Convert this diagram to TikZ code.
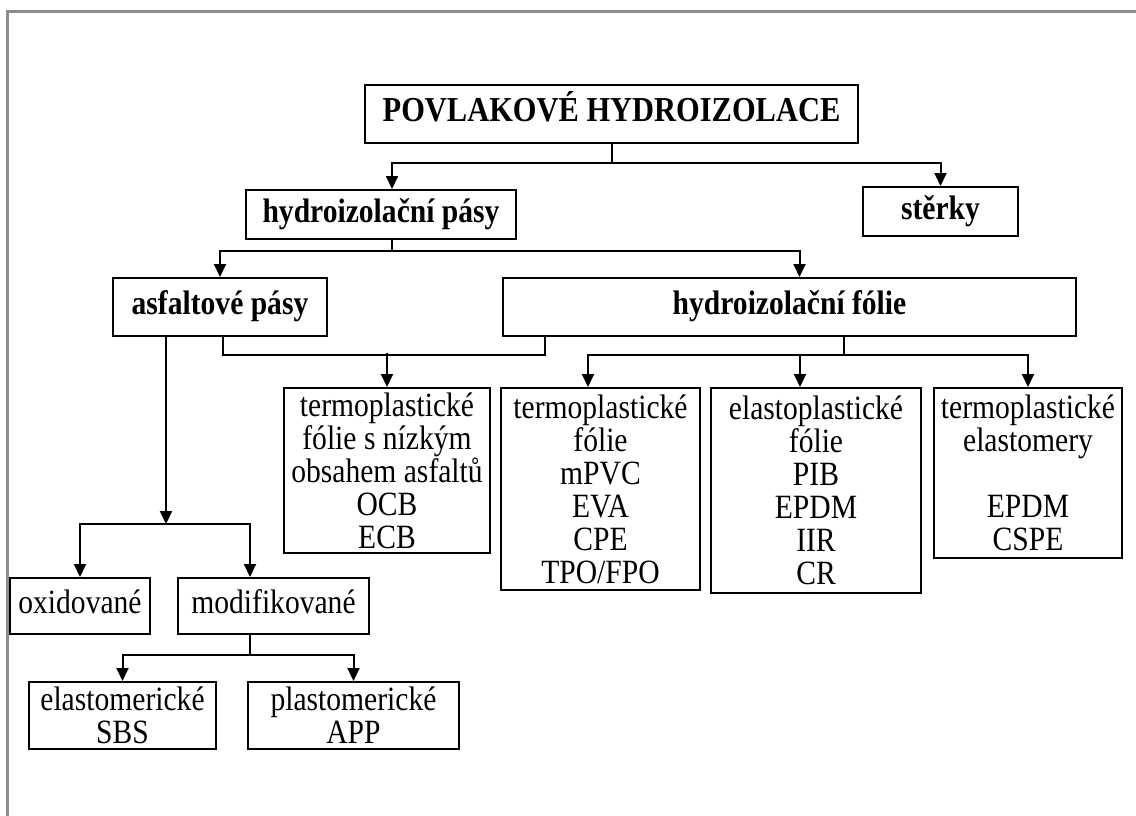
\documentclass[tikz,border=0pt]{standalone}
\usepackage{fontspec}
\setmainfont{Liberation Serif}[FakeStretch=0.87]
\usepackage{xcolor}
\usetikzlibrary{positioning, arrows.meta}
\definecolor{framegray}{HTML}{8C8C8C}

\tikzset{
  box/.style={draw, line width=2pt, inner sep=0pt, align=center,
              font=\fontsize{34}{33}\selectfont},
  boldbox/.style={box, text height=23pt, text depth=8pt,
                  font=\bfseries\fontsize{34}{33}\selectfont},
  link/.style={line width=2pt},
  arr/.style={link, -{Triangle[length=13pt, width=12pt]}},
}

\begin{document}
\begin{tikzpicture}[x=1pt, y=-1pt]
  \useasboundingbox (0,0) rectangle (1136,816);
  \draw[framegray, line width=3pt] (7,816) |- (1136,12);

  % upper levels
  \node[boldbox, minimum width=493pt, minimum height=58pt,
        font=\bfseries\fontsize{35}{33}\selectfont] (povlak) at (611.5,114) {POVLAKOVÉ HYDROIZOLACE};
  \node[boldbox, minimum width=270pt, minimum height=49pt] (hpasy) at (381,214.5) {hydroizolační pásy};
  \node[boldbox, minimum width=155pt, minimum height=49pt] (sterky) at (940.5,211.5) {stěrky};
  \node[boldbox, minimum width=214pt, minimum height=58pt] (asf) at (220,307) {asfaltové pásy};
  \node[boldbox, minimum width=573pt, minimum height=58pt] (folie) at (789.5,307) {hydroizolační fólie};

  % kinds of foils
  \node[box, minimum width=206pt, minimum height=165pt] (tfna) at (387,470.5)
    {termoplastické\\fólie s nízkým\\obsahem asfaltů\\OCB\\ECB};
  \node[box, minimum width=199pt, minimum height=202pt] (tf) at (600.5,489)
    {termoplastické\\fólie\\mPVC\\EVA\\CPE\\TPO/FPO};
  \node[box, minimum width=210pt, minimum height=205pt] (ef) at (816,490.5)
    {elastoplastické\\fólie\\PIB\\EPDM\\IIR\\CR};
  \node[box, minimum width=188pt, minimum height=170pt] (te) at (1028,473)
    {termoplastické\\elastomery\\[33pt]EPDM\\CSPE};

  % asphalt sheets
  \node[box, minimum width=140pt, minimum height=56pt, text height=23pt, text depth=8pt] (oxid) at (80,606) {oxidované};
  \node[box, minimum width=191pt, minimum height=56pt, text height=23pt, text depth=8pt] (modif) at (273.5,606) {modifikované};
  \node[box, minimum width=187pt, minimum height=67pt] (elast) at (122.5,715.5) {elastomerické\\SBS};
  \node[box, minimum width=211pt, minimum height=67pt] (plast) at (353.5,715.5) {plastomerické\\APP};

  % connectors
  \draw[arr] (povlak.south) -- ++(0,19) -| ([xshift=11pt]hpasy.north);
  \draw[arr] (povlak.south) -- ++(0,19) -| (sterky.north);
  \draw[arr] ([xshift=11pt]hpasy.south) -- ++(0,11) -| (asf.north);
  \draw[arr] ([xshift=11pt]hpasy.south) -- ++(0,11) -| ([xshift=10pt]folie.north);

  \draw[link] ([xshift=3pt]asf.south) -- ++(0,18) -| ([xshift=-244.5pt]folie.south);
  \draw[arr] ([yshift=34pt]tfna.north) -- (tfna.north);
  \draw[arr] ([xshift=54.5pt]folie.south) -- ++(0,18) -| ([xshift=-12.5pt]tf.north);
  \draw[arr] ([xshift=54.5pt]folie.south) -- ++(0,18) -| ([xshift=-16pt]ef.north);
  \draw[arr] ([xshift=54.5pt]folie.south) -- ++(0,18) -| (te.north);

  \draw[arr] ([xshift=-54pt]asf.south) -- ++(0,187) coordinate (asfsplit);
  \draw[arr] (asfsplit) -| (oxid.north);
  \draw[arr] (asfsplit) -| ([xshift=-23.5pt]modif.north);
  \draw[arr] ([xshift=-23.5pt]modif.south) -- ++(0,20) -| (elast.north);
  \draw[arr] ([xshift=-23.5pt]modif.south) -- ++(0,20) -| (plast.north);
\end{tikzpicture}
\end{document}
